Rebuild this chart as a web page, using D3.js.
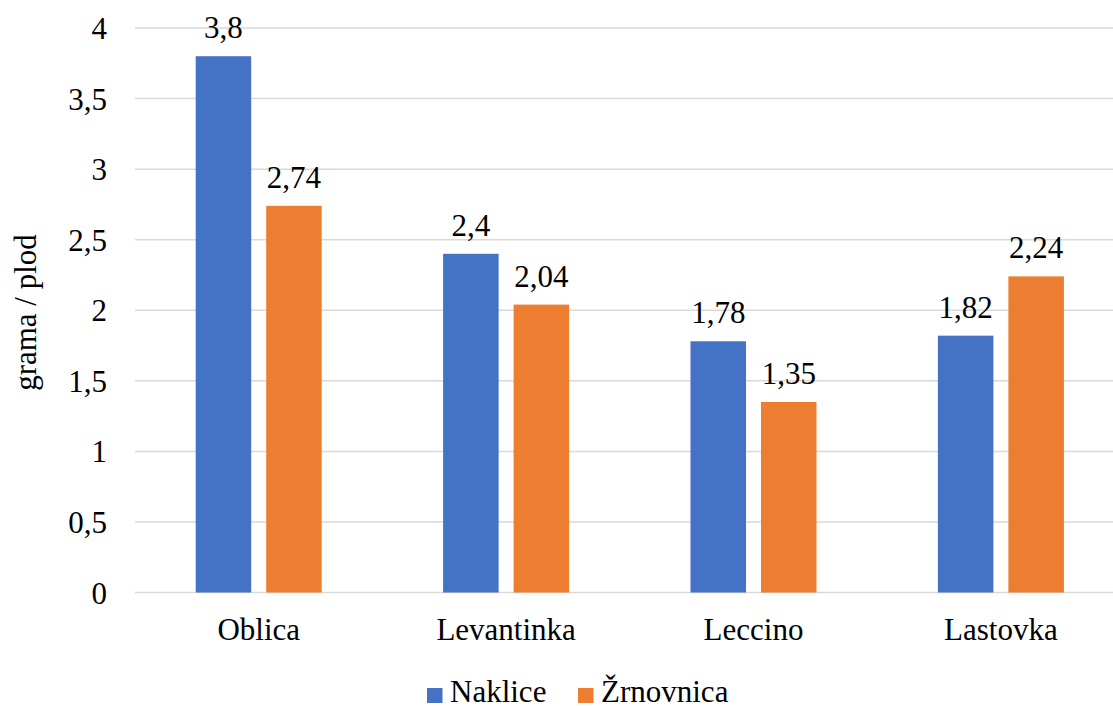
<!DOCTYPE html>
<html><head><meta charset="utf-8">
<script src="https://cdn.jsdelivr.net/npm/d3@7"></script>
<style>
  html body #chart text, html body #chart g text { font-family: 'Liberation Serif', 'Times New Roman', Tinos, serif !important; }
</style>
</head>
<body style="margin:0;background:#fff">
<svg id="chart" width="1113" height="706" style="display:block"></svg>
<script>
const categories = ["Oblica", "Levantinka", "Leccino", "Lastovka"];
const seriesNames = ["Naklice", "Žrnovnica"];
const naklice = [3.8, 2.4, 1.78, 1.82];
const zrnovnica = [2.74, 2.04, 1.35, 2.24];
const yTicks = [0, 0.5, 1, 1.5, 2, 2.5, 3, 3.5, 4];
const colors = ["#4472C4", "#ED7D31"];
const yTitle = "grama / plod";

const seriesValues = [naklice, zrnovnica];
const fmt = v => String(v).replace(".", ",");

const svg = d3.select("#chart");
const FONT_STYLE = "font-family:'Liberation Serif','Times New Roman',serif !important;font-size:31px";

const x = d3.scaleBand().domain(categories).range([135, 1124.6]).padding(0);
const y = d3.scaleLinear().domain([0, 4]).range([592.5, 28]);
const groupW = 126;
const xs = d3.scaleBand().domain(seriesNames).range([0, groupW]).paddingInner(15 / 70.5).paddingOuter(0);

svg.append("g").selectAll("line").data(yTicks).join("line")
  .attr("x1", x.range()[0]).attr("x2", x.range()[1])
  .attr("y1", d => y(d)).attr("y2", d => y(d))
  .attr("stroke", "#D9D9D9").attr("stroke-width", 1.5);

const yAxis = d3.axisLeft(y).tickValues(yTicks).tickFormat(fmt).tickSize(0).tickPadding(0);
const gy = svg.append("g").attr("transform", "translate(107,0)").call(yAxis);
gy.select(".domain").remove();
gy.attr("font-family", "Liberation Serif").attr("font-size", 31);
gy.selectAll("text").attr("style", FONT_STYLE).attr("fill", "#000").attr("dy", "0.34em");

const xAxis = d3.axisBottom(x).tickSize(0).tickPadding(0);
const gx = svg.append("g").attr("transform", "translate(0,640)").call(xAxis);
gx.select(".domain").remove();
gx.attr("font-family", "Liberation Serif").attr("font-size", 31);
gx.selectAll("text").attr("style", FONT_STYLE).attr("fill", "#000").attr("dy", 0);

const groups = svg.append("g")
  .selectAll("g").data(categories).join("g")
  .attr("transform", c => `translate(${x(c) + x.bandwidth() / 2 - groupW / 2},0)`);

seriesNames.forEach((s, si) => {
  groups.append("rect")
    .attr("x", xs(s))
    .attr("width", xs.bandwidth())
    .attr("y", (c, i) => y(seriesValues[si][i]))
    .attr("height", (c, i) => y(0) - y(seriesValues[si][i]))
    .attr("fill", colors[si]);
  groups.append("text")
    .attr("x", xs(s) + xs.bandwidth() / 2)
    .attr("y", (c, i) => y(seriesValues[si][i]) - 18)
    .attr("text-anchor", "middle")
    .attr("style", FONT_STYLE)
    .attr("fill", "#000")
    .text((c, i) => fmt(seriesValues[si][i]));
});

svg.append("text")
  .attr("transform", "translate(36,312.5) rotate(-90)")
  .attr("text-anchor", "middle")
  .attr("style", FONT_STYLE)
  .text(yTitle);

const legendItems = [{x: 427, name: seriesNames[0], c: colors[0]}, {x: 578, name: seriesNames[1], c: colors[1]}];
const lg = svg.append("g");
legendItems.forEach(it => {
  lg.append("rect").attr("x", it.x).attr("y", 688).attr("width", 15.5).attr("height", 15).attr("fill", it.c);
  lg.append("text").attr("x", it.x + 23).attr("y", 702).attr("style", FONT_STYLE).text(it.name);
});
</script>
</body></html>
